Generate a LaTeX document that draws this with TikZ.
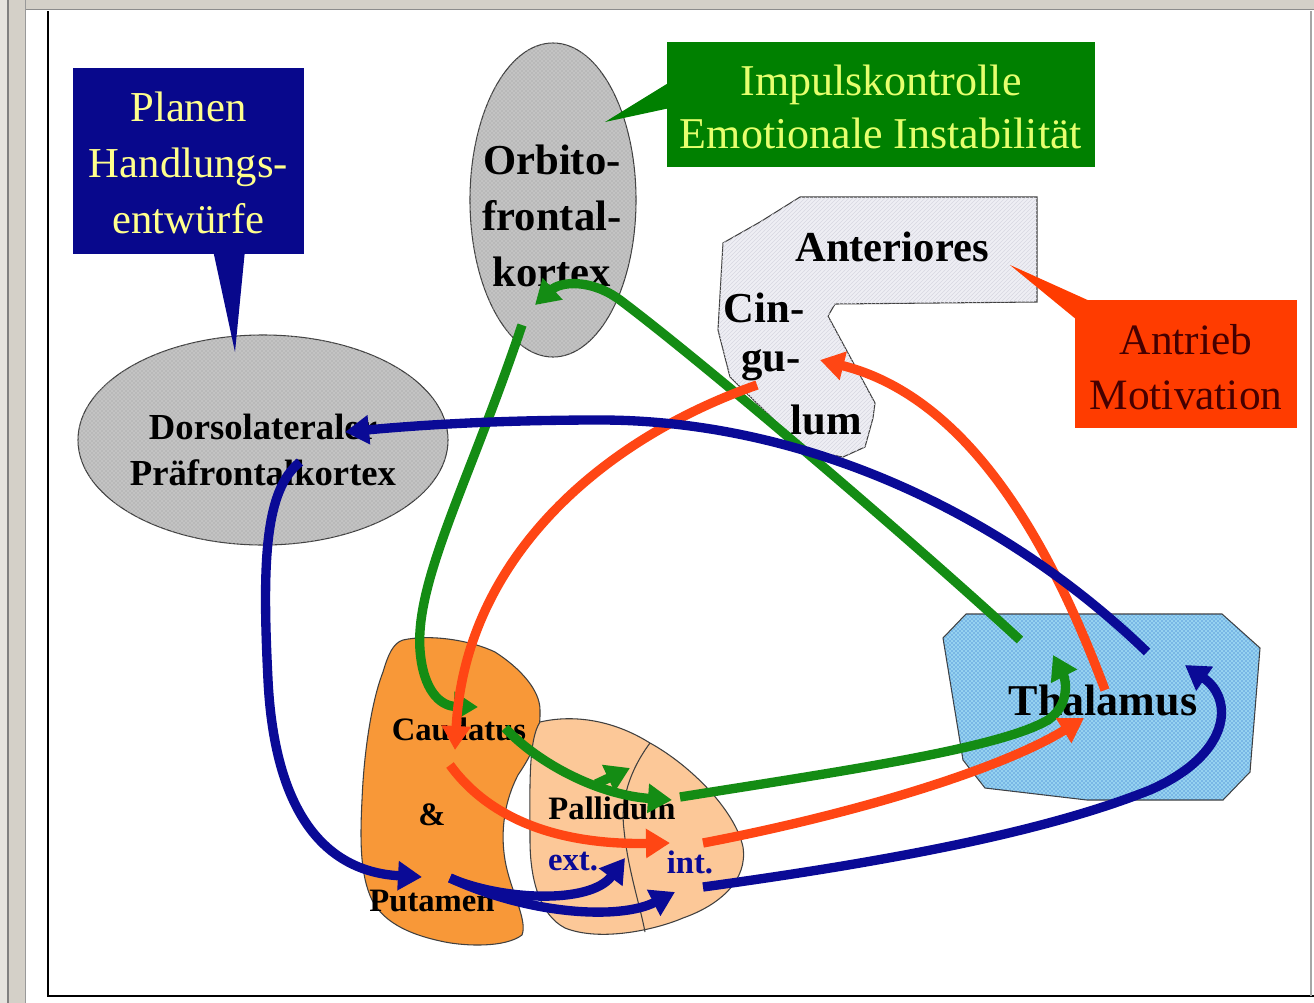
\documentclass[tikz,border=0pt]{standalone}
\usepackage{fontspec}
\setmainfont{Liberation Serif}
\usetikzlibrary{arrows.meta,patterns}
\definecolor{boxblue}{RGB}{8,8,140}
\definecolor{boxgreen}{RGB}{0,128,0}
\definecolor{boxred}{RGB}{255,60,0}
\definecolor{ltyellow}{RGB}{255,255,140}
\definecolor{grtext}{RGB}{230,255,110}
\definecolor{redtext}{RGB}{70,0,0}
\definecolor{agreen}{RGB}{20,140,20}
\definecolor{ared}{RGB}{255,70,20}
\definecolor{ablue}{RGB}{10,10,150}
\definecolor{cortexgray}{RGB}{185,185,185}
\definecolor{cinggray}{RGB}{238,238,244}
\definecolor{cingline}{RGB}{215,215,225}
\definecolor{thalcyan}{RGB}{150,210,240}
\definecolor{thaldot}{RGB}{25,95,195}
\definecolor{caudorange}{RGB}{248,152,56}
\definecolor{pallpeach}{RGB}{252,200,152}
\definecolor{chrome}{RGB}{212,208,200}
\begin{document}
\begin{tikzpicture}[x=0.75pt,y=-0.75pt,
  arr/.style={line width=7pt,-{Triangle[length=18pt,width=21pt]}},
  garr/.style={arr,draw=agreen},
  rarr/.style={arr,draw=ared},
  barr/.style={arr,draw=ablue},
  outline/.style={draw=black!75,line width=0.8pt},
  boldlbl/.style={font=\bfseries\fontsize{32}{42}\selectfont,align=center,text=black,inner sep=0pt},
  smalllbl/.style={font=\bfseries\fontsize{24.5}{30}\selectfont,text=black,inner sep=0pt},
  calloutlbl/.style={font=\fontsize{32}{42}\selectfont,align=center,inner sep=0pt}]
\useasboundingbox (0,0) rectangle (1314,1003);
\fill[white] (0,0) rectangle (1314,1003);
% window chrome
\fill[chrome] (0,0) rectangle (1314,9);
\draw[black!45,line width=0.8pt] (0,9.5) -- (1314,9.5);
\fill[chrome!60!white] (0,0) rectangle (8,1003);
\fill[chrome] (8,0) rectangle (25,1003);
\draw[black!50,line width=0.8pt] (8,0) -- (8,1003);
\draw[black!40,line width=0.6pt] (25,0) -- (25,1003);
\draw[black,line width=2.2pt] (48,11) -- (48,996) -- (1314,996);
\draw[black!35,line width=0.8pt] (1311,11) -- (1311,996);

% ---------- shapes ----------
% Dorsolateral prefrontal cortex
\path[outline,fill=cortexgray] (263,440) ellipse [x radius=185,y radius=105];
\path[pattern=crosshatch dots,pattern color=white!80!gray] (263,440) ellipse [x radius=185,y radius=105];
% Orbitofrontal cortex
\path[outline,fill=cortexgray] (553,200) ellipse [x radius=83,y radius=157];
\path[pattern=crosshatch dots,pattern color=white!80!gray] (553,200) ellipse [x radius=83,y radius=157];
% Cingulum
\path[outline,fill=cinggray] (800,197) -- (1037,197) -- (1037,302) -- (835,304)
  -- (828,316) -- (875,403) -- (873,418) -- (865,447) -- (843,457) -- (805,450)
  -- (730,377) -- (718,330) -- (723,243) -- (760,222) -- cycle;
\path[pattern=north east lines,pattern color=cingline] (800,197) -- (1037,197) -- (1037,302) -- (835,304)
  -- (828,316) -- (875,403) -- (873,418) -- (865,447) -- (843,457) -- (805,450)
  -- (730,377) -- (718,330) -- (723,243) -- (760,222) -- cycle;
% Thalamus
\path[outline,fill=thalcyan] (943,638) -- (966,614) -- (1222,614) -- (1260,648)
  -- (1250,772) -- (1223,800) -- (1087,800) -- (985,788) -- (963,760) -- cycle;
\path[pattern=crosshatch dots,pattern color=thaldot] (943,638) -- (966,614) -- (1222,614) -- (1260,648)
  -- (1250,772) -- (1223,800) -- (1087,800) -- (985,788) -- (963,760) -- cycle;
% Caudatus & Putamen
\path[outline,fill=caudorange] (403,640) .. controls (430,634) and (470,640) .. (495,652)
  .. controls (520,668) and (540,690) .. (540,710)
  .. controls (541,740) and (528,760) .. (518,775)
  .. controls (505,800) and (500,830) .. (505,860)
  .. controls (510,890) and (528,920) .. (522,935)
  .. controls (505,948) and (465,946) .. (445,942)
  .. controls (415,936) and (385,925) .. (372,900)
  .. controls (360,875) and (360,840) .. (362,800)
  .. controls (364,750) and (372,700) .. (383,672)
  .. controls (388,655) and (393,643) .. (403,640) -- cycle;
% Pallidum
\path[outline,fill=pallpeach] (540,722) .. controls (570,715) and (610,718) .. (650,743)
  .. controls (690,765) and (735,810) .. (743,847)
  .. controls (748,880) and (720,905) .. (683,918)
  .. controls (655,930) and (600,942) .. (565,928)
  .. controls (540,915) and (530,880) .. (530,840)
  .. controls (530,790) and (528,740) .. (540,722) -- cycle;
\draw[black!75,line width=0.8pt] (650,743) .. controls (630,770) and (620,800) .. (624,830)
  .. controls (628,870) and (640,905) .. (645,932);

% ---------- callout boxes ----------
\fill[boxblue] (213,250) -- (245,250) -- (235,352) -- cycle;
\node[fill=boxblue,minimum width=231*0.75pt,minimum height=186*0.75pt,inner sep=0pt] (planbox) at (188.5,161) {};
\node[calloutlbl,text=ltyellow] (plantext) at (188.5,163) {Planen\\Handlungs-\\entwürfe};

\fill[boxgreen] (670,82) -- (670,108) -- (605,122) -- cycle;
\node[fill=boxgreen,minimum width=428*0.75pt,minimum height=125*0.75pt,inner sep=0pt] (impbox) at (881,104.5) {};
\node[font=\fontsize{33}{40}\selectfont,align=center,text=grtext,inner sep=0pt] (imptext) at (881,107) {Impulskontrolle\\Emotionale Instabilität};

\fill[boxred] (1092,302) -- (1077,320) -- (1010,265) -- cycle;
\node[fill=boxred,minimum width=222*0.75pt,minimum height=128*0.75pt,inner sep=0pt] (antbox) at (1186,364) {};
\node[font=\fontsize{32.5}{41}\selectfont,align=center,text=redtext,inner sep=0pt] (anttext) at (1186,367) {Antrieb\\Motivation};

% ---------- labels ----------
\node[font=\bfseries\fontsize{27.5}{35}\selectfont,align=center,inner sep=0pt] (dlpfc) at (263,450) {Dorsolateraler\\Präfrontalkortex};
\node[boldlbl] (ofc) at (552,216) {Orbito-\\frontal-\\kortex};
\node[boldlbl] (ant) at (892,247) {Anteriores};
\node[boldlbl] (cin) at (764,308) {Cin-};
\node[boldlbl] (gu) at (771,365) {gu-};
\node[boldlbl] (lum) at (826,420) {lum};
\node[font=\bfseries\fontsize{33}{40}\selectfont,inner sep=0pt] (thal) at (1103,700) {Thalamus};
\node[smalllbl] (caud) at (459,729) {Caudatus};
\node[smalllbl] (amp) at (432,815) {\&};
\node[smalllbl] (put) at (432,901) {Putamen};
\node[smalllbl] (pall) at (612,808) {Pallidum};
\node[smalllbl,text=ablue] (ext) at (573,862) {ext.};
\node[smalllbl,text=ablue] (int) at (690,862) {int.};

% ---------- connector end points ----------
\coordinate (ofcOut) at (522,325);
\coordinate (ofcIn) at (535,305);
\coordinate (caudIn) at (478,707);
\coordinate (caudOut) at (505,728);
\coordinate (caudRedIn) at (455,750);
\coordinate (caudRedOut) at (450,765);
\coordinate (pallGreenIn) at (672,800);
\coordinate (extGreenFrom) at (596,784);
\coordinate (extGreenIn) at (630,768);
\coordinate (intGreenOut) at (680,797);
\coordinate (thalGreenIn) at (1053,655);
\coordinate (thalGreenOut) at (1020,640);
\coordinate (cingOut) at (757,385);
\coordinate (cingIn) at (820,360);
\coordinate (intRedIn) at (670,843);
\coordinate (intRedOut) at (703,843);
\coordinate (thalRedIn) at (1084,718);
\coordinate (thalRedOut) at (1105,690);
\coordinate (thalBlueOut) at (1147,652);
\coordinate (dlpfcIn) at (345,432);
\coordinate (dlpfcOut) at (300,462);
\coordinate (putIn) at (422,877);
\coordinate (putOut) at (450,878);
\coordinate (extBlueIn) at (625,858);
\coordinate (intBlueIn) at (675,892);
\coordinate (intBlueOut) at (703,887);
\coordinate (thalBlueIn) at (1185,665);

% ---------- green loop ----------
\draw[garr] (ofcOut) .. controls (470,480) and (415,580) .. (420,650)
  .. controls (423,690) and (440,706) .. (caudIn);
\draw[garr] (caudOut) .. controls (540,765) and (600,795) .. (pallGreenIn);
\draw[garr] (extGreenFrom) -- (extGreenIn);
\draw[garr] (intGreenOut) .. controls (850,770) and (1000,748) .. (1048,720)
  .. controls (1070,705) and (1066,680) .. (thalGreenIn);
\draw[garr] (thalGreenOut) .. controls (900,530) and (700,360) .. (620,300)
  .. controls (590,278) and (560,282) .. (ofcIn);
% ---------- red loop ----------
\draw[rarr] (cingOut) .. controls (600,440) and (465,560) .. (caudRedIn);
\draw[rarr] (caudRedOut) .. controls (490,820) and (560,845) .. (intRedIn);
\draw[rarr] (intRedOut) .. controls (850,815) and (1000,770) .. (thalRedIn);
\draw[rarr] (thalRedOut) .. controls (1060,570) and (980,400) .. (cingIn);
% ---------- blue loop ----------
\draw[barr] (thalBlueOut) .. controls (1000,510) and (800,420) .. (600,420)
  .. controls (500,420) and (420,425) .. (dlpfcIn);
\draw[barr] (dlpfcOut) .. controls (265,490) and (262,560) .. (268,680)
  .. controls (275,820) and (330,872) .. (putIn);
\draw[barr] (putOut) .. controls (500,900) and (590,905) .. (extBlueIn);
\draw[barr] (putOut) .. controls (530,915) and (620,920) .. (intBlueIn);
\draw[barr] (intBlueOut) .. controls (900,860) and (1050,830) .. (1150,790)
  .. controls (1230,755) and (1235,700) .. (thalBlueIn);
\end{tikzpicture}
\end{document}
